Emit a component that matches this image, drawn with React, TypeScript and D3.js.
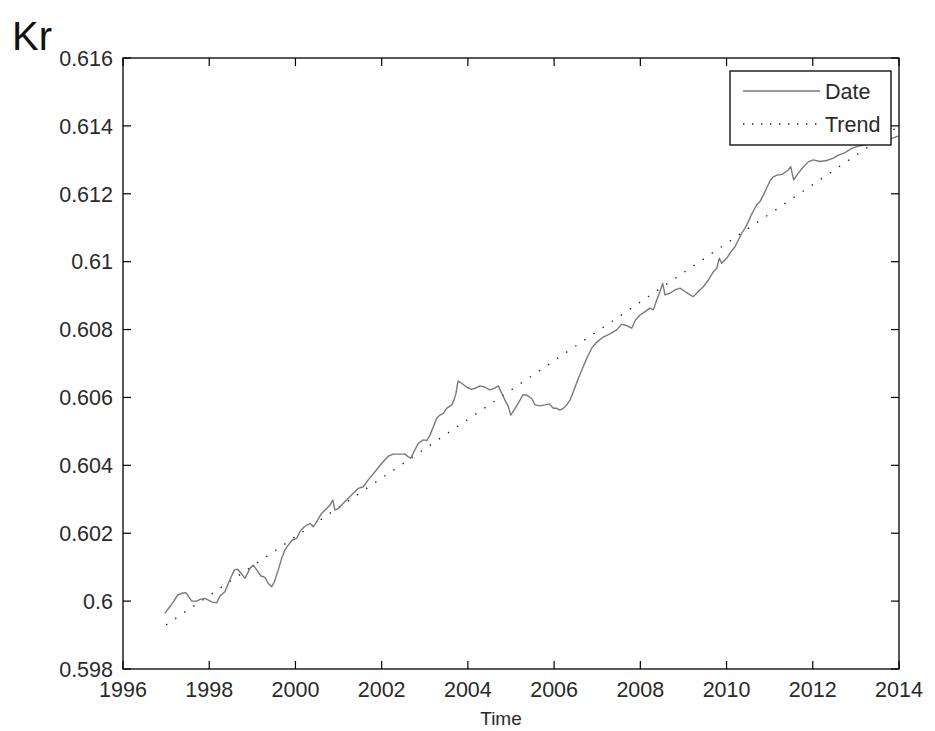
import React from "react";
import * as d3 from "d3";

const dataYears = [
  1996.97, 1997.09, 1997.167, 1997.269, 1997.362, 1997.454, 1997.515, 1997.594, 1997.71, 1997.786,
  1997.902, 1997.979, 1998.071, 1998.174, 1998.25, 1998.366, 1998.459, 1998.582, 1998.661, 1998.737,
  1998.83, 1998.946, 1999.022, 1999.101, 1999.201, 1999.294, 1999.37, 1999.449, 1999.51, 1999.602,
  1999.681, 1999.758, 1999.834, 1999.927, 2000.029, 2000.106, 2000.206, 2000.338, 2000.415, 2000.494,
  2000.61, 2000.726, 2000.802, 2000.865, 2000.918, 2000.995, 2001.111, 2001.227, 2001.343, 2001.459,
  2001.574, 2001.69, 2001.845, 2002.001, 2002.154, 2002.27, 2002.425, 2002.541, 2002.618, 2002.673,
  2002.75, 2002.85, 2002.966, 2003.045, 2003.121, 2003.198, 2003.277, 2003.353, 2003.43, 2003.508,
  2003.624, 2003.678, 2003.724, 2003.77, 2003.857, 2003.973, 2004.089, 2004.165, 2004.281, 2004.397,
  2004.513, 2004.606, 2004.706, 2004.785, 2004.861, 2004.938, 2004.994, 2005.07, 2005.17, 2005.272,
  2005.365, 2005.481, 2005.557, 2005.673, 2005.789, 2005.889, 2005.982, 2006.06, 2006.137, 2006.213,
  2006.292, 2006.369, 2006.461, 2006.561, 2006.677, 2006.793, 2006.872, 2006.988, 2007.141, 2007.297,
  2007.452, 2007.568, 2007.667, 2007.8, 2007.888, 2007.992, 2008.108, 2008.224, 2008.301, 2008.38,
  2008.456, 2008.519, 2008.572, 2008.688, 2008.804, 2008.92, 2009.036, 2009.152, 2009.229, 2009.345,
  2009.461, 2009.577, 2009.693, 2009.771, 2009.832, 2009.887, 2010.003, 2010.08, 2010.196, 2010.273,
  2010.351, 2010.428, 2010.505, 2010.583, 2010.699, 2010.776, 2010.853, 2010.931, 2011.008, 2011.084,
  2011.17, 2011.286, 2011.432, 2011.488, 2011.557, 2011.664, 2011.78, 2011.896, 2012.012, 2012.167,
  2012.322, 2012.477, 2012.593, 2012.748, 2012.903, 2013.019, 2013.212, 2013.444, 2013.676, 2013.977,
];

const dataValues = [
  0.59964, 0.59984, 0.59998, 0.60018, 0.60023, 0.60025, 0.60015, 0.6, 0.6, 0.60005,
  0.60008, 0.60003, 0.59997, 0.59995, 0.60015, 0.60028, 0.60057, 0.60092, 0.60094, 0.60082,
  0.60067, 0.60097, 0.60106, 0.60092, 0.60074, 0.6007, 0.60052, 0.60042, 0.60057, 0.60092,
  0.60126, 0.60151, 0.60165, 0.6018, 0.60185, 0.60205, 0.60219, 0.60229, 0.60219, 0.60234,
  0.60259, 0.60273, 0.60283, 0.60298, 0.60268, 0.60273, 0.60288, 0.60303, 0.60318, 0.60332,
  0.60337, 0.60357, 0.60381, 0.60406, 0.60427, 0.60433, 0.60433, 0.60433, 0.60425, 0.60421,
  0.6044, 0.60465, 0.60475, 0.60473, 0.60489, 0.60514, 0.60539, 0.60548, 0.60553, 0.60568,
  0.60578, 0.60592, 0.60612, 0.60648, 0.60642, 0.6063, 0.60624, 0.60627, 0.60634, 0.6063,
  0.60622, 0.60627, 0.60634, 0.60612, 0.60592, 0.60573, 0.60548, 0.60563, 0.60583, 0.60607,
  0.60607, 0.60597, 0.60578, 0.60575, 0.60578, 0.60581, 0.60568, 0.60568, 0.60563, 0.60568,
  0.60578, 0.60592, 0.60622, 0.60656, 0.60691, 0.60725, 0.60745, 0.60763, 0.60778, 0.60787,
  0.60799, 0.60816, 0.60812, 0.60804, 0.60828, 0.60843, 0.60853, 0.60863, 0.60858, 0.60887,
  0.60912, 0.60936, 0.60902, 0.60907, 0.60917, 0.60922, 0.60912, 0.60902, 0.60897, 0.60912,
  0.60926, 0.60946, 0.6097, 0.6098, 0.6101, 0.60995, 0.6101, 0.61025, 0.61044, 0.61064,
  0.61084, 0.61098, 0.61118, 0.6114, 0.61167, 0.61177, 0.61196, 0.61217, 0.61238, 0.6125,
  0.61255, 0.61257, 0.6127, 0.6128, 0.61241, 0.61261, 0.61279, 0.61294, 0.613, 0.61295,
  0.61298, 0.61305, 0.61314, 0.61321, 0.61334, 0.61339, 0.61344, 0.6135, 0.61356, 0.6137,
];

const trendYears = [1997, 2014];
const trendValues = [0.5993, 0.614];

const xTicks = [1996, 1998, 2000, 2002, 2004, 2006, 2008, 2010, 2012, 2014];
const yTicks = [0.598, 0.6, 0.602, 0.604, 0.606, 0.608, 0.61, 0.612, 0.614, 0.616];
const yTickLabels = ["0.598", "0.6", "0.602", "0.604", "0.606", "0.608", "0.61", "0.612", "0.614", "0.616"];
const legendLabels = ["Date", "Trend"];

const W = 935;
const H = 731;
const L = 123;
const R = 899;
const T = 58;
const B = 669;
const FONT = "'Liberation Sans', Arial, Helvetica, sans-serif";
const TICK = 8;
const TXT = "#2a2a2a";

export default function App() {
  const x = d3.scaleLinear().domain([1996, 2014]).range([L, R]);
  const y = d3.scaleLinear().domain([0.598, 0.616]).range([B, T]);

  const line = d3
    .line<[number, number]>()
    .x((d) => x(d[0]))
    .y((d) => y(d[1]));

  const dataPts: [number, number][] = dataYears.map((yr, i) => [yr, dataValues[i]]);
  const trendPts: [number, number][] = trendYears.map((yr, i) => [yr, trendValues[i]]);

  return (
    <svg
      width={W}
      height={H}
      style={{ position: "absolute", left: 0, top: 0, background: "#fff" }}
      fontFamily={FONT}
    >
      <rect x={0} y={0} width={W} height={H} fill="#fff" />
      <defs>
        <clipPath id="plotclip">
          <rect x={L} y={T} width={R - L} height={B - T} />
        </clipPath>
      </defs>

      {/* series */}
      <g clipPath="url(#plotclip)">
        <path d={line(trendPts) || ""} fill="none" stroke="#222" strokeWidth={1.4} strokeDasharray="1.4 9.6" />
        <path d={line(dataPts) || ""} fill="none" stroke="#7a7a7a" strokeWidth={1.4} strokeLinejoin="round" />
      </g>

      {/* frame */}
      <rect x={L} y={T} width={R - L} height={B - T} fill="none" stroke="#000" strokeWidth={1.3} />

      {/* x ticks */}
      {xTicks.map((t) => (
        <g key={"x" + t}>
          <line x1={x(t)} x2={x(t)} y1={B} y2={B - TICK} stroke="#000" strokeWidth={1.2} />
          <line x1={x(t)} x2={x(t)} y1={T} y2={T + TICK} stroke="#000" strokeWidth={1.2} />
          <text x={x(t)} y={697} fontSize={21.5} textAnchor="middle" fill={TXT}>
            {t}
          </text>
        </g>
      ))}

      {/* y ticks */}
      {yTicks.map((t, i) => (
        <g key={"y" + t}>
          <line x1={L} x2={L + TICK} y1={y(t)} y2={y(t)} stroke="#000" strokeWidth={1.2} />
          <line x1={R} x2={R - TICK} y1={y(t)} y2={y(t)} stroke="#000" strokeWidth={1.2} />
          <text x={113} y={y(t)} dy="0.36em" fontSize={21.5} textAnchor="end" fill={TXT}>
            {yTickLabels[i]}
          </text>
        </g>
      ))}

      {/* axis labels */}
      <text x={12} y={50} fontSize={40} fill="#111">
        Kr
      </text>
      <text x={501} y={725} fontSize={19} textAnchor="middle" fill={TXT}>
        Time
      </text>

      {/* legend */}
      <rect x={730} y={71} width={161} height={74} fill="#fff" stroke="#000" strokeWidth={1.3} />
      <line x1={743} x2={820} y1={91} y2={91} stroke="#7a7a7a" strokeWidth={1.4} />
      <text x={825} y={91} dy="0.36em" fontSize={21.5} fill={TXT}>
        {legendLabels[0]}
      </text>
      <line x1={743} x2={820} y1={124} y2={124} stroke="#222" strokeWidth={1.4} strokeDasharray="1.4 7.6" />
      <text x={825} y={124} dy="0.36em" fontSize={21.5} fill={TXT}>
        {legendLabels[1]}
      </text>
    </svg>
  );
}
